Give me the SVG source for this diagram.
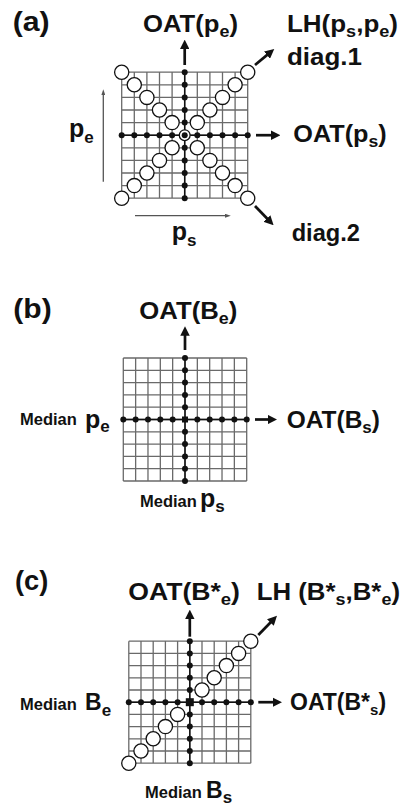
<svg xmlns="http://www.w3.org/2000/svg" xmlns:xlink="http://www.w3.org/1999/xlink" width="402" height="807" viewBox="0 0 402 807">
  <style>
    .grid { fill: none; stroke: #6a6a6a; stroke-width: 1.3; vector-effect: non-scaling-stroke; }
    .axis { stroke: #111; stroke-width: 1.5; fill: none; }
    .dot { fill: #111; }
    .ring { fill: #fff; stroke: #111; stroke-width: 1.3; }
    .arrow { stroke: #111; stroke-width: 2.7; fill: none; marker-end: url(#head); }
    .thin { stroke: #555; stroke-width: 1.3; fill: none; marker-end: url(#thinhead); }
    .lbl { font-family: "Liberation Sans", Arial, sans-serif; font-weight: bold; fill: #111; }
    .panel { font-size: 27px; }
    .big { font-size: 23px; }
    .sub { font-size: 16px; }
    .med { font-size: 16.5px; }
    .var { font-size: 25px; }
    .vsub { font-size: 17px; }
  </style>
  <defs>
    <!-- 10 x 10 cell lattice, 100 units square -->
    <path id="grid" class="grid" d="M0 0H100M0 10H100M0 20H100M0 30H100M0 40H100M0 50H100M0 60H100M0 70H100M0 80H100M0 90H100M0 100H100M0 0V100M10 0V100M20 0V100M30 0V100M40 0V100M50 0V100M60 0V100M70 0V100M80 0V100M90 0V100M100 0V100"/>
    <circle id="dot" class="dot" r="3"/>
    <circle id="ring" class="ring" r="7.1"/>
    <marker id="head" viewBox="0 0 10 10" refX="2" refY="5" markerWidth="9.5" markerHeight="9.5" markerUnits="userSpaceOnUse" orient="auto">
      <path d="M0,0 L10,5 L0,10 z" fill="#111"/>
    </marker>
    <marker id="thinhead" viewBox="0 0 10 10" refX="2" refY="5" markerWidth="6" markerHeight="4" markerUnits="userSpaceOnUse" orient="auto" preserveAspectRatio="none">
      <path d="M0,0 L10,5 L0,10 z" fill="#555"/>
    </marker>
  </defs>

  <!-- (a) full sampling: both axes plus both diagonals -->
  <g id="panel-a">
    <use href="#grid" transform="translate(121.7 72.2) scale(1.26)"/>
    <path class="axis" d="M121.7 135.2H247.7M184.7 72.2V198.2"/>
    <g id="a-oat-s">
      <use href="#dot" x="121.7" y="135.2"/><use href="#dot" x="134.3" y="135.2"/><use href="#dot" x="146.9" y="135.2"/><use href="#dot" x="159.5" y="135.2"/><use href="#dot" x="172.1" y="135.2"/>
      <use href="#dot" x="197.3" y="135.2"/><use href="#dot" x="209.9" y="135.2"/><use href="#dot" x="222.5" y="135.2"/><use href="#dot" x="235.1" y="135.2"/><use href="#dot" x="247.7" y="135.2"/>
    </g>
    <g id="a-oat-e">
      <use href="#dot" x="184.7" y="72.2"/><use href="#dot" x="184.7" y="84.8"/><use href="#dot" x="184.7" y="97.4"/><use href="#dot" x="184.7" y="110"/><use href="#dot" x="184.7" y="122.6"/>
      <use href="#dot" x="184.7" y="147.8"/><use href="#dot" x="184.7" y="160.4"/><use href="#dot" x="184.7" y="173"/><use href="#dot" x="184.7" y="185.6"/><use href="#dot" x="184.7" y="198.2"/>
    </g>
    <g id="a-diag1">
      <use href="#ring" x="121.7" y="198.2"/><use href="#ring" x="134.3" y="185.6"/><use href="#ring" x="146.9" y="173"/><use href="#ring" x="159.5" y="160.4"/><use href="#ring" x="172.1" y="147.8"/>
      <use href="#ring" x="197.3" y="122.6"/><use href="#ring" x="209.9" y="110"/><use href="#ring" x="222.5" y="97.4"/><use href="#ring" x="235.1" y="84.8"/><use href="#ring" x="247.7" y="72.2"/>
    </g>
    <g id="a-diag2">
      <use href="#ring" x="121.7" y="72.2"/><use href="#ring" x="134.3" y="84.8"/><use href="#ring" x="146.9" y="97.4"/><use href="#ring" x="159.5" y="110"/><use href="#ring" x="172.1" y="122.6"/>
      <use href="#ring" x="197.3" y="147.8"/><use href="#ring" x="209.9" y="160.4"/><use href="#ring" x="222.5" y="173"/><use href="#ring" x="235.1" y="185.6"/><use href="#ring" x="247.7" y="198.2"/>
    </g>
    <g id="a-centre">
      <circle class="ring" cx="184.7" cy="135.2" r="5.4"/>
      <use href="#dot" x="184.7" y="135.2"/>
    </g>
  </g>

  <!-- (b) one-at-a-time lines through the median -->
  <g id="panel-b">
    <use href="#grid" transform="translate(123.3 358) scale(1.234 1.23)"/>
    <path class="axis" d="M123.3 419.5H246.7M185 358V481"/>
    <g id="b-oat-s">
      <use href="#dot" x="123.3" y="419.5"/><use href="#dot" x="135.64" y="419.5"/><use href="#dot" x="147.98" y="419.5"/><use href="#dot" x="160.32" y="419.5"/><use href="#dot" x="172.66" y="419.5"/>
      <use href="#dot" x="197.34" y="419.5"/><use href="#dot" x="209.68" y="419.5"/><use href="#dot" x="222.02" y="419.5"/><use href="#dot" x="234.36" y="419.5"/><use href="#dot" x="246.7" y="419.5"/>
    </g>
    <g id="b-oat-e">
      <use href="#dot" x="185" y="358"/><use href="#dot" x="185" y="370.3"/><use href="#dot" x="185" y="382.6"/><use href="#dot" x="185" y="394.9"/><use href="#dot" x="185" y="407.2"/>
      <use href="#dot" x="185" y="431.8"/><use href="#dot" x="185" y="444.1"/><use href="#dot" x="185" y="456.4"/><use href="#dot" x="185" y="468.7"/><use href="#dot" x="185" y="481"/>
    </g>
    <rect id="b-median" x="182" y="416.5" width="6" height="6" fill="#111"/>
  </g>

  <!-- (c) one-at-a-time lines plus the rising diagonal -->
  <g id="panel-c">
    <use href="#grid" transform="translate(128.8 641.2) scale(1.22)"/>
    <path class="axis" d="M128.8 702.2H250.8M189.8 641.2V763.2"/>
    <g id="c-oat-s">
      <use href="#dot" x="128.8" y="702.2"/><use href="#dot" x="141" y="702.2"/><use href="#dot" x="153.2" y="702.2"/><use href="#dot" x="165.4" y="702.2"/><use href="#dot" x="177.6" y="702.2"/>
      <use href="#dot" x="202" y="702.2"/><use href="#dot" x="214.2" y="702.2"/><use href="#dot" x="226.4" y="702.2"/><use href="#dot" x="238.6" y="702.2"/><use href="#dot" x="250.8" y="702.2"/>
    </g>
    <g id="c-oat-e">
      <use href="#dot" x="189.8" y="641.2"/><use href="#dot" x="189.8" y="653.4"/><use href="#dot" x="189.8" y="665.6"/><use href="#dot" x="189.8" y="677.8"/><use href="#dot" x="189.8" y="690"/>
      <use href="#dot" x="189.8" y="714.4"/><use href="#dot" x="189.8" y="726.6"/><use href="#dot" x="189.8" y="738.8"/><use href="#dot" x="189.8" y="751"/><use href="#dot" x="189.8" y="763.2"/>
    </g>
    <g id="c-diag">
      <use href="#ring" x="128.8" y="763.2"/><use href="#ring" x="141" y="751"/><use href="#ring" x="153.2" y="738.8"/><use href="#ring" x="165.4" y="726.6"/><use href="#ring" x="177.6" y="714.4"/>
      <use href="#ring" x="202" y="690"/><use href="#ring" x="214.2" y="677.8"/><use href="#ring" x="226.4" y="665.6"/><use href="#ring" x="238.6" y="653.4"/><use href="#ring" x="250.8" y="641.2"/>
    </g>
    <rect id="c-median" x="185.8" y="698.2" width="8" height="8" fill="#111"/>
  </g>

  <!-- direction arrows -->
  <g id="connectors">
    <path class="arrow" d="M184.7 65V47.2"/>
    <path class="arrow" d="M256 135.2H272.8"/>
    <path class="arrow" d="M255 65L268.4 53.9"/>
    <path class="arrow" d="M255 206L268.3 219.8"/>
    <path class="thin" d="M103.3 181.7V94"/>
    <path class="thin" d="M135 215.7H226"/>

    <path class="arrow" d="M185 350V333.9"/>
    <path class="arrow" d="M255 419.5H269.5"/>

    <path class="arrow" d="M189.8 636.7V617.2"/>
    <path class="arrow" d="M258.3 702.2H274.5"/>
    <path class="arrow" d="M258.3 635L271.7 621.2"/>
  </g>

  <!-- labels -->
  <g id="labels" class="lbl">
    <text class="panel" x="12.7" y="31" textLength="37" lengthAdjust="spacingAndGlyphs">(a)</text>
    <text class="big" x="143" y="31.7" textLength="95" lengthAdjust="spacingAndGlyphs">OAT(p<tspan class="sub" dy="5">e</tspan><tspan dy="-5">)</tspan></text>
    <text class="big" x="287" y="31.7" textLength="111" lengthAdjust="spacingAndGlyphs">LH(p<tspan class="sub" dy="5">s</tspan><tspan dy="-5">,p</tspan><tspan class="sub" dy="5">e</tspan><tspan dy="-5">)</tspan></text>
    <text class="big" x="287" y="64.5" textLength="75" lengthAdjust="spacingAndGlyphs">diag.1</text>
    <text class="var" x="69" y="137">p<tspan class="vsub" dy="6">e</tspan></text>
    <text class="big" x="293.3" y="141.7" textLength="93.4" lengthAdjust="spacingAndGlyphs">OAT(p<tspan class="sub" dy="5">s</tspan><tspan dy="-5">)</tspan></text>
    <text class="var" x="171.7" y="240">p<tspan class="vsub" dy="6">s</tspan></text>
    <text class="big" x="291.7" y="240.7" textLength="68.3" lengthAdjust="spacingAndGlyphs">diag.2</text>

    <text class="panel" x="13.3" y="318.3" textLength="38.4" lengthAdjust="spacingAndGlyphs">(b)</text>
    <text class="big" x="139.3" y="319" textLength="98" lengthAdjust="spacingAndGlyphs">OAT(B<tspan class="sub" dy="5">e</tspan><tspan dy="-5">)</tspan></text>
    <text class="med" x="20" y="425">Median</text>
    <text class="var" x="85" y="427.5">p<tspan class="vsub" dy="4.5">e</tspan></text>
    <text class="big" x="286.7" y="428.3" textLength="93.3" lengthAdjust="spacingAndGlyphs">OAT(B<tspan class="sub" dy="5">s</tspan><tspan dy="-5">)</tspan></text>
    <text class="med" x="140" y="506.7" font-size="15">Median</text>
    <text class="var" x="200" y="506.7">p<tspan class="vsub" dy="5">s</tspan></text>

    <text class="panel" x="15" y="590" textLength="33.3" lengthAdjust="spacingAndGlyphs">(c)</text>
    <text class="big" x="128.3" y="600" textLength="111.7" lengthAdjust="spacingAndGlyphs">OAT(B*<tspan class="sub" dy="5">e</tspan><tspan dy="-5">)</tspan></text>
    <text class="big" x="256.7" y="600" textLength="143.3" lengthAdjust="spacingAndGlyphs">LH (B*<tspan class="sub" dy="5">s</tspan><tspan dy="-5">,B*</tspan><tspan class="sub" dy="5">e</tspan><tspan dy="-5">)</tspan></text>
    <text class="med" x="20" y="710">Median</text>
    <text class="big" x="85" y="710">B<tspan class="vsub" dy="6">e</tspan></text>
    <text class="big" x="290" y="710" font-size="22">OAT(B*<tspan font-size="15" dy="5">s</tspan><tspan dy="-5">)</tspan></text>
    <text class="med" x="145" y="798">Median</text>
    <text class="big" x="206" y="798">B<tspan class="vsub" dy="5">s</tspan></text>
  </g>
</svg>
